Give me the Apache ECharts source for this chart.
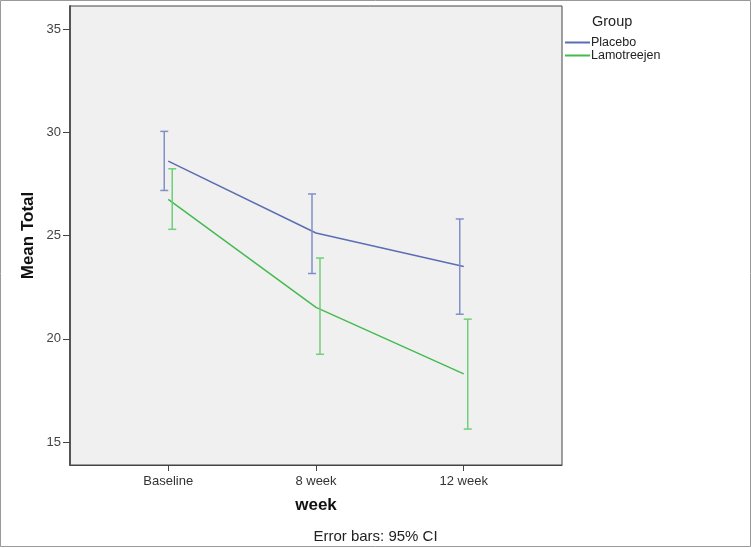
<!DOCTYPE html>
<html>
<head>
<meta charset="utf-8">
<script src="https://cdn.jsdelivr.net/npm/echarts@6/dist/echarts.min.js"></script>
<style>
html,body{margin:0;padding:0;background:#fff;}
#c{width:751px;height:548px;}
</style>
</head>
<body>
<div id="c"></div>
<script>
const categories = ['Baseline', '8 week', '12 week'];
const yTicks = [15, 20, 25, 30, 35];
const placeboMean = [28.6, 25.12, 23.5];
const placeboLow = [27.18, 23.16, 21.19];
const placeboHigh = [30.04, 27.01, 25.8];
const lamoMean = [26.75, 21.52, 18.3];
const lamoLow = [25.3, 19.25, 15.63];
const lamoHigh = [28.23, 23.91, 20.95];

const DODGE = 0.027;
const FONT = '"Liberation Sans", Arial, sans-serif';
const C_PLA_LINE = '#5b6db3', C_PLA_BAR = '#8190c8';
const C_LAM_LINE = '#45bb4f', C_LAM_BAR = '#6fcf7a';

function errData(low, high, off) {
  return categories.map((c, i) => [i + off, low[i], high[i]]);
}
function errRender(color) {
  return function (params, api) {
    const x = api.value(0);
    const lo = api.coord([x, api.value(1)]);
    const hi = api.coord([x, api.value(2)]);
    const hw = 4;
    const st = { stroke: color, lineWidth: 1.5 };
    return {
      type: 'group',
      children: [
        { type: 'line', shape: { x1: lo[0], y1: lo[1], x2: hi[0], y2: hi[1] }, style: st },
        { type: 'line', shape: { x1: lo[0] - hw, y1: lo[1], x2: lo[0] + hw, y2: lo[1] }, style: st },
        { type: 'line', shape: { x1: hi[0] - hw, y1: hi[1], x2: hi[0] + hw, y2: hi[1] }, style: st }
      ]
    };
  };
}

const chart = echarts.init(document.getElementById('c'));
chart.setOption({
  animation: false,
  backgroundColor: '#fff',
  textStyle: { fontFamily: FONT },
  grid: {
    left: 70, right: 189, top: 6, bottom: 83,
    show: true, backgroundColor: '#f0f0f0', borderColor: '#444', borderWidth: 1
  },
  xAxis: {
    type: 'value', min: -0.665, max: 2.665,
    name: 'week', nameLocation: 'middle', nameGap: 32, nameMoveOverlap: false,
    nameTextStyle: { fontFamily: FONT, fontSize: 17, fontWeight: 'bold', color: '#111' },
    axisLine: { show: true, onZero: false, lineStyle: { color: '#444', width: 1 } },
    axisTick: { show: true, customValues: [0, 1, 2], length: 6, lineStyle: { color: '#444' } },
    axisLabel: {
      customValues: [0, 1, 2], margin: 10,
      formatter: v => categories[Math.round(v)] || '',
      fontFamily: FONT, fontSize: 13, color: '#333'
    },
    splitLine: { show: false }
  },
  yAxis: {
    type: 'value', min: 13.89, max: 36.11,
    name: 'Mean Total', nameLocation: 'middle', nameGap: 33, nameRotate: 90, nameMoveOverlap: false,
    nameTextStyle: { fontFamily: FONT, fontSize: 17, fontWeight: 'bold', color: '#111' },
    axisLine: { show: true, onZero: false, lineStyle: { color: '#555', width: 2 } },
    axisTick: { show: true, customValues: yTicks, length: 7, lineStyle: { color: '#444' } },
    axisLabel: { customValues: yTicks, margin: 9, fontFamily: FONT, fontSize: 13, color: '#444' },
    splitLine: { show: false }
  },
  legend: {
    data: ['Placebo', 'Lamotreejen'],
    orient: 'vertical', left: 560, top: 31,
    icon: 'rect', itemWidth: 25, itemHeight: 2, itemGap: 0,
    textStyle: { fontFamily: FONT, fontSize: 12.5, color: '#222', lineHeight: 10, padding: [0, 0, 0, -4] }
  },
  graphic: [
    { type: 'text', left: 592, top: 14, style: { text: 'Group', font: '14.5px ' + FONT, fill: '#222' } },
    { type: 'text', left: 'center', top: 529, style: { text: 'Error bars: 95% CI', font: '15px ' + FONT, fill: '#222' } },
    { type: 'rect', shape: { x: 0.5, y: 0.5, width: 750, height: 546 }, style: { fill: 'none', stroke: '#999', lineWidth: 1 }, silent: true }
  ],
  series: [
    {
      name: 'Placebo', type: 'line', symbol: 'none',
      data: placeboMean.map((v, i) => [i, v]),
      lineStyle: { color: C_PLA_LINE, width: 1.5 }, itemStyle: { color: C_PLA_LINE }, z: 3
    },
    {
      name: 'Lamotreejen', type: 'line', symbol: 'none',
      data: lamoMean.map((v, i) => [i, v]),
      lineStyle: { color: C_LAM_LINE, width: 1.5 }, itemStyle: { color: C_LAM_LINE }, z: 3
    },
    {
      name: 'Placebo CI', type: 'custom', renderItem: errRender(C_PLA_BAR),
      data: errData(placeboLow, placeboHigh, -DODGE), encode: { x: 0, y: [1, 2] }, z: 4
    },
    {
      name: 'Lamotreejen CI', type: 'custom', renderItem: errRender(C_LAM_BAR),
      data: errData(lamoLow, lamoHigh, DODGE), encode: { x: 0, y: [1, 2] }, z: 4
    }
  ]
});
</script>
</body>
</html>
